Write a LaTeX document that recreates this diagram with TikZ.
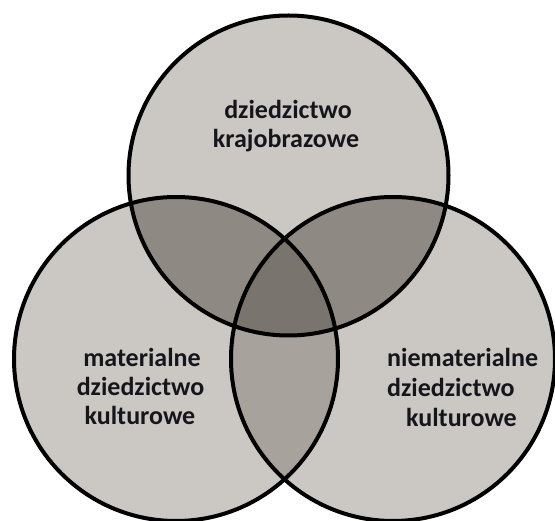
\documentclass[tikz,border=0pt]{standalone}
\usepackage{fontspec}
\setmainfont{Carlito}
\definecolor{lightfill}{HTML}{CBC7C3}
\definecolor{dblfill}{HTML}{8F8984}
\definecolor{lensfill}{HTML}{A8A29D}
\definecolor{triplefill}{HTML}{7A746F}
\definecolor{textc}{HTML}{15151C}
\begin{document}
\begin{tikzpicture}[x=1pt,y=-1pt,
  ring/.style={draw=black,line width=4pt},
  lbl/.style={font=\bfseries\fontsize{26}{30}\selectfont, text=textc, inner sep=0pt}]
\useasboundingbox[fill=white] (0,0) rectangle (555,521);
\coordinate (T) at (288.5,175.5);
\coordinate (L) at (176,359);
\coordinate (R) at (393,359);
% base fills
\fill[lightfill] (T) circle (160pt);
\fill[lightfill] (L) circle (162pt);
\fill[lightfill] (R) circle (162pt);
% bottom lens
\begin{scope}
  \clip (L) circle (162pt);
  \fill[lensfill] (R) circle (162pt);
\end{scope}
% top overlaps
\begin{scope}
  \clip (T) circle (160pt);
  \fill[dblfill] (L) circle (162pt);
  \fill[dblfill] (R) circle (162pt);
\end{scope}
% triple overlap
\begin{scope}
  \clip (T) circle (160pt);
  \clip (L) circle (162pt);
  \fill[triplefill] (R) circle (162pt);
\end{scope}
% outlines
\draw[ring] (T) circle (160pt);
\draw[ring] (L) circle (162pt);
\draw[ring] (R) circle (162pt);
% labels
\node[lbl, anchor=base] (t1) at (288,119) {dziedzictwo};
\node[lbl, anchor=base] (t2) at (286,148) {krajobrazowe};
\node[lbl, anchor=base] (l1) at (142,367) {materialne};
\node[lbl, anchor=base] (l2) at (140.5,396) {dziedzictwo};
\node[lbl, anchor=base] (l3) at (140,425) {kulturowe};
\node[lbl, anchor=base west] (r1) at (387,367) {niematerialne};
\node[lbl, anchor=base west] (r2) at (387,397) {dziedzictwo};
\node[lbl, anchor=base west] (r3) at (406,427) {kulturowe};
\end{tikzpicture}
\end{document}
